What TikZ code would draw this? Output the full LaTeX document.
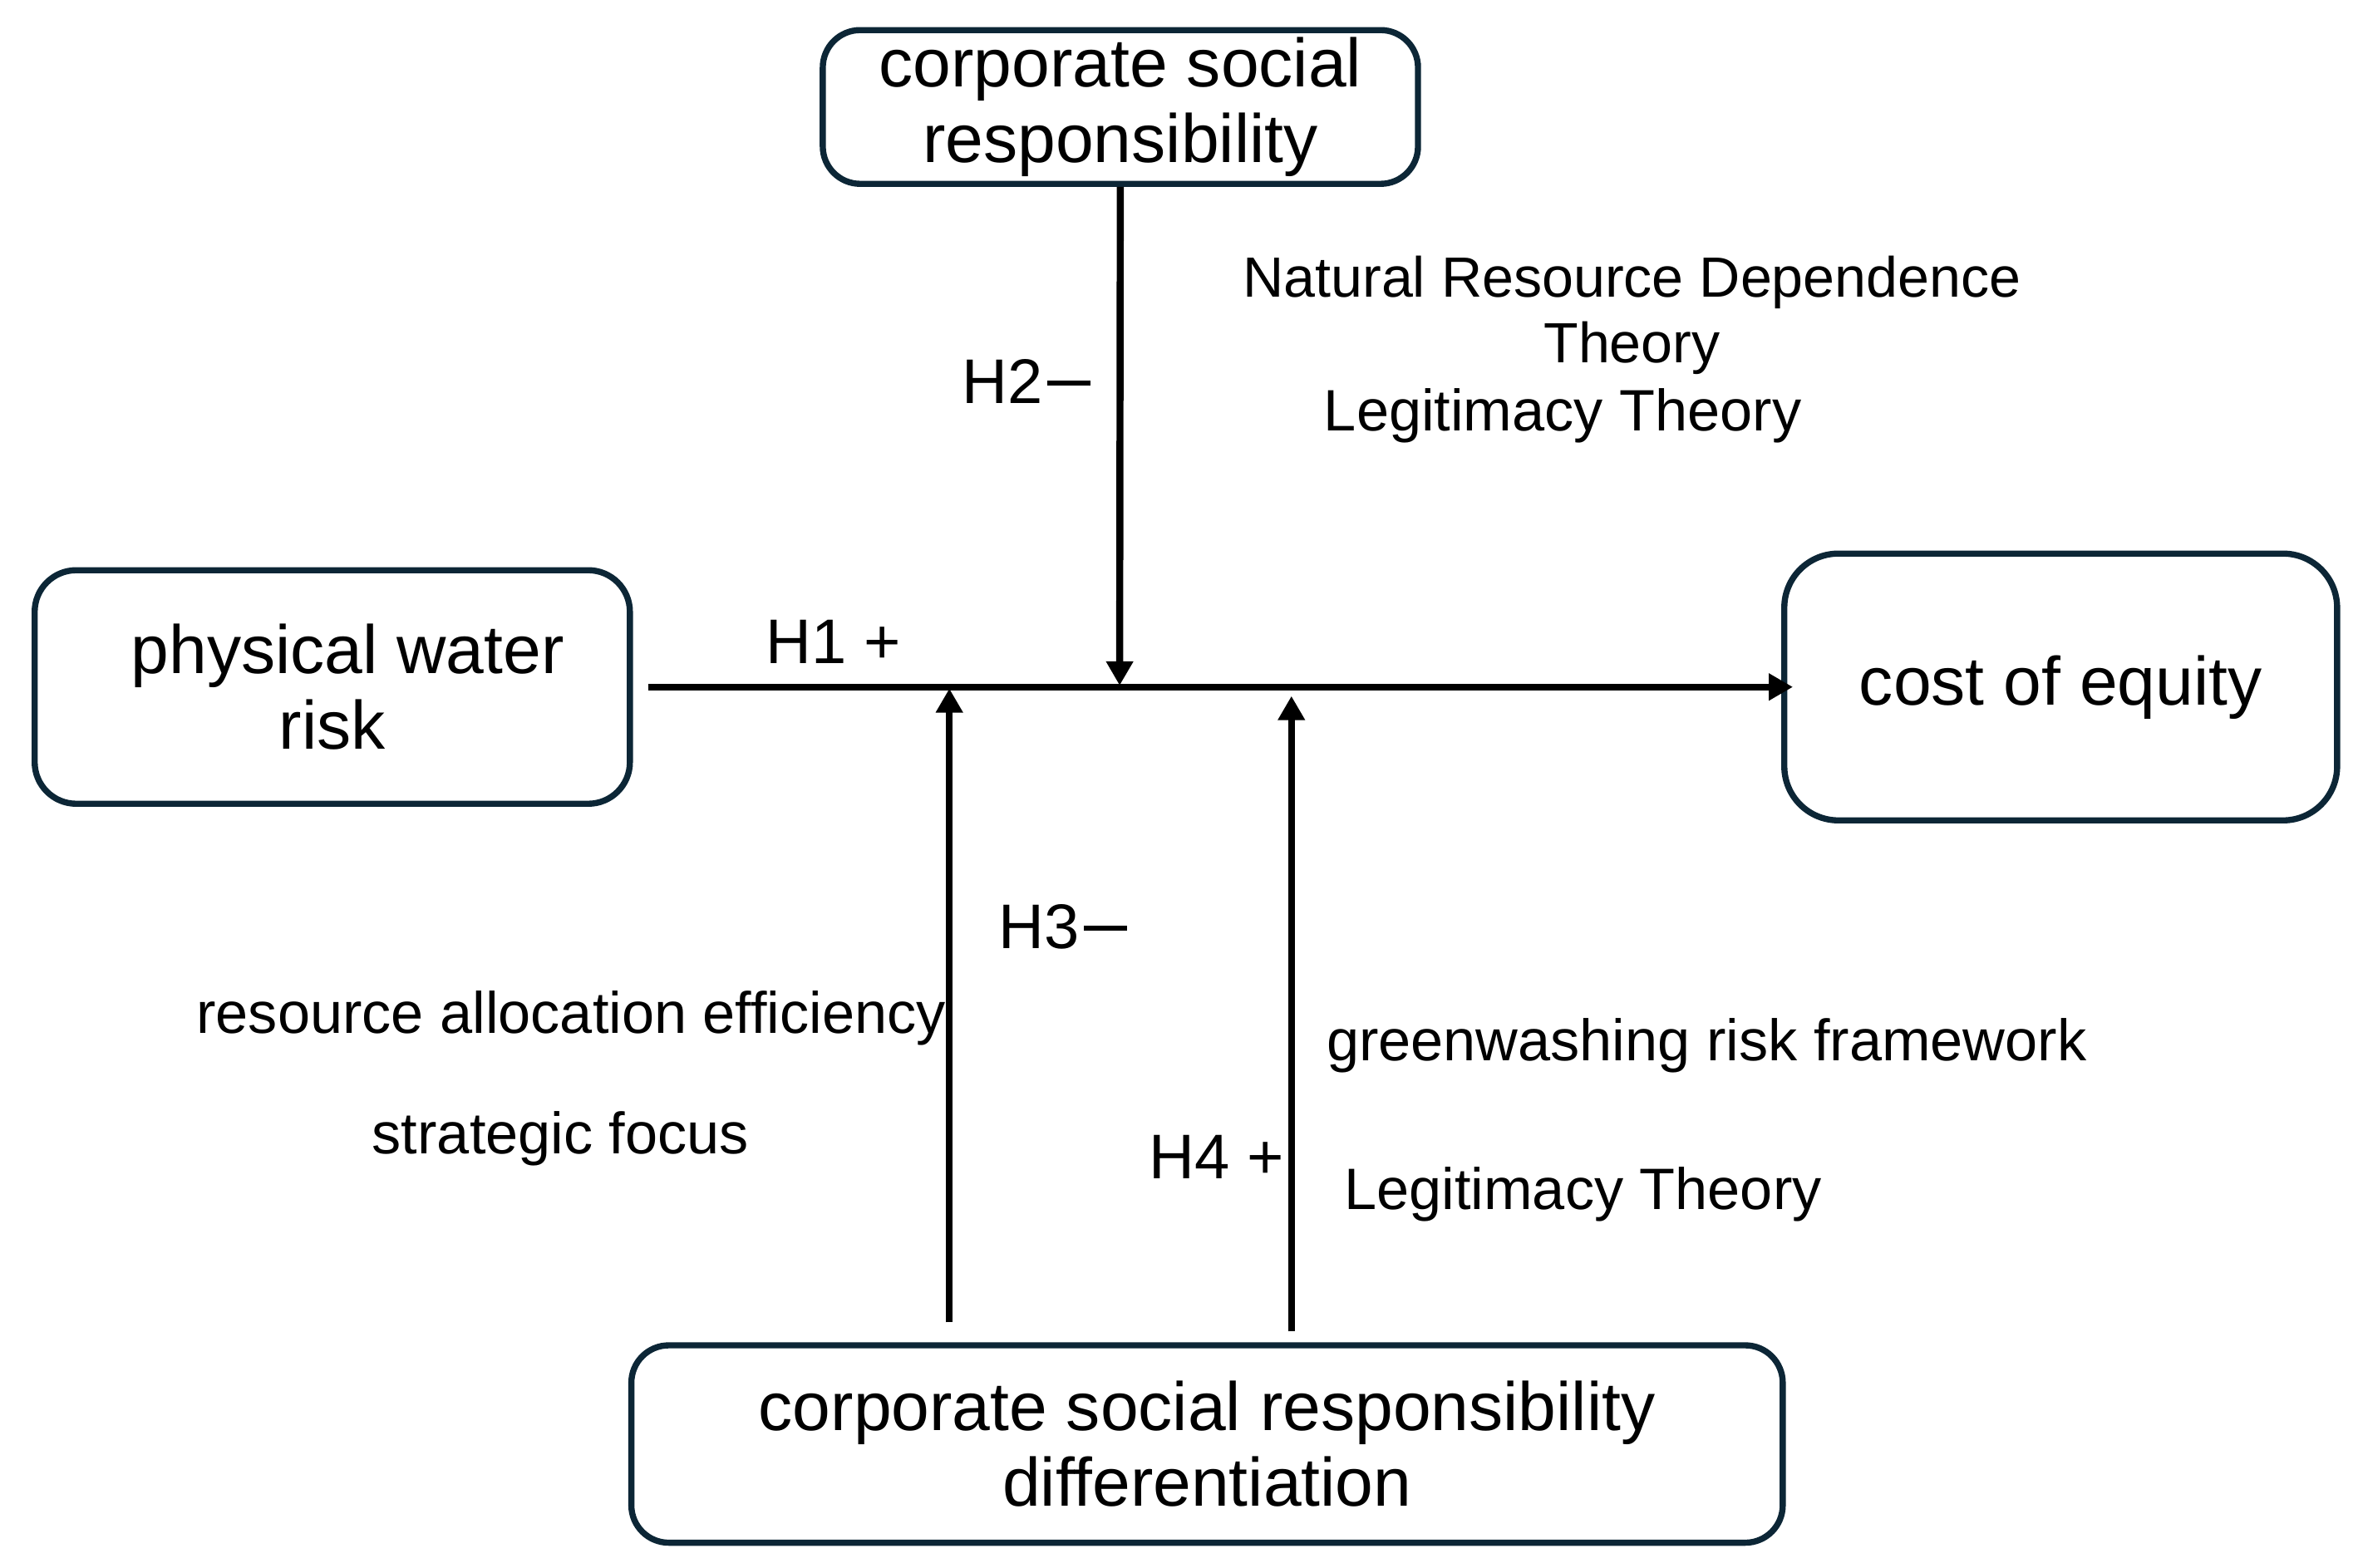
\documentclass[tikz,border=0pt]{standalone}
\usepackage{fontspec}
\setmainfont{Liberation Sans}
\usepackage{tikz}
\usetikzlibrary{arrows.meta}
\definecolor{rahmen}{RGB}{12,38,54}
\newcommand{\strich}{\hspace{0.07em}\rule[0.28em]{0.69em}{0.075em}}

\begin{document}
\begin{tikzpicture}[x=0.01813cm,y=-0.01813cm,->,>={Triangle[length=0.29cm,width=0.31cm]},line width=2.4pt,
   konstrukt/.style={draw=rahmen,line width=2.1pt,rounded corners=0.45cm,align=center,font=\fontsize{23.4}{26}\selectfont,inner sep=0pt},
   theorie/.style={align=center,font=\fontsize{20}{23}\selectfont,inner sep=0pt},
   hypo/.style={font=\fontsize{21.6}{24}\selectfont,inner sep=0pt}]

  \useasboundingbox (0,0) rectangle (1568.1,1040.8);

  \node[konstrukt,minimum width=7.16cm,minimum height=1.85cm] (csr) at (743.5,71) {corporate social\\responsibility};
  \node[konstrukt,minimum width=7.16cm,minimum height=2.81cm,rounded corners=0.5cm] (pwr) at (220.5,456) {\hspace*{0.45em}physical water\\risk};
  \node[konstrukt,minimum width=6.65cm,minimum height=3.21cm,rounded corners=0.65cm] (coe) at (1367.5,456) {cost of equity};
  \node[konstrukt,minimum width=13.85cm,minimum height=2.375cm] (csrd) at (801,958.5) {corporate social responsibility\\differentiation};

  \coordinate (m2) at (743,455);
  \coordinate (m3) at (630,457);
  \coordinate (m4) at (857,462);

  \node[theorie,font=\fontsize{19.4}{22.5}\selectfont] (nrd) at (1083,209) {Natural Resource Dependence\\Theory};
  \node[theorie] (lt1) at (1037,276) {Legitimacy Theory};
  \node[theorie] (rae) at (379,676) {resource allocation efficiency};
  \node[theorie] (sf) at (372,756) {strategic focus};
  \node[theorie] (grf) at (1132.5,694) {greenwashing risk framework};
  \node[theorie] (lt2) at (1050.5,793) {Legitimacy Theory};

  \node[hypo] (h1) at (553,426) {H1 +};
  \node[hypo] (h2) at (681,253) {H2\strich};
  \node[hypo] (h3) at (705.5,615) {H3\strich};
  \node[hypo] (h4) at (807.5,768) {H4 +};

  \draw[shorten <=0.18cm,shorten >=-0.14cm] (pwr) -- (coe);
  \draw (csr) -- (m2);
  \foreach \m/\g in {m3/0.24cm,m4/0.13cm} \draw[shorten <=\g] (\m |- csrd.north) -- (\m);
\end{tikzpicture}
\end{document}
